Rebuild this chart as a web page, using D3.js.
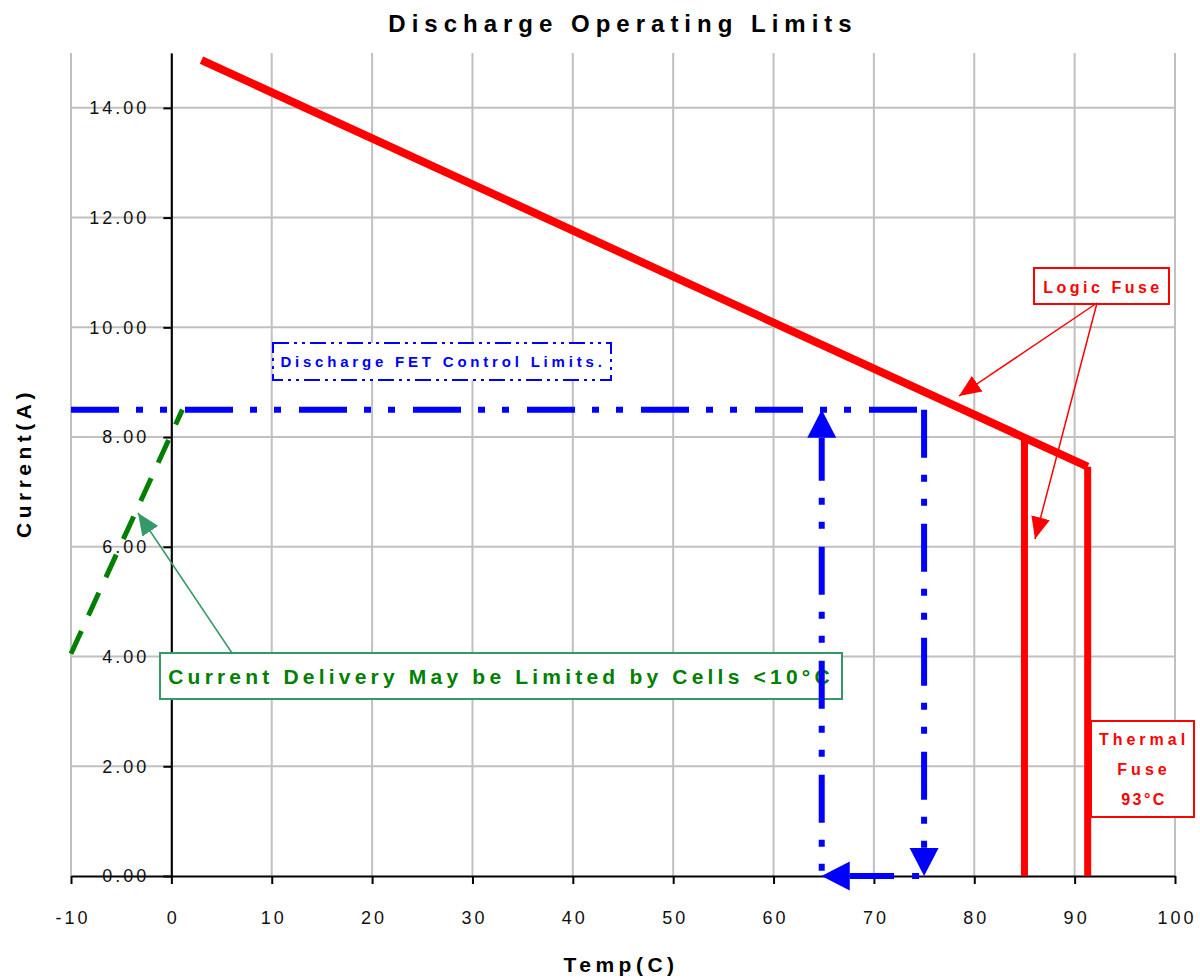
<!DOCTYPE html>
<html>
<head>
<meta charset="utf-8">
<script src="https://cdn.jsdelivr.net/npm/d3@7/dist/d3.min.js"></script>
<style>
  body { margin: 0; background: #fff; }
  svg { display: block; font-family: 'Liberation Sans', Arial, sans-serif; }
  .grid line { stroke: #c0c0c0; stroke-width: 2; }
  .axis path, .axis line { stroke: #000; stroke-width: 2; }
  .axis text { font-size: 18px; letter-spacing: 3px; fill: #111; font-family: 'Liberation Sans', Arial, sans-serif; }
  .title { font-size: 24px; font-weight: bold; letter-spacing: 6px; }
  .axis-title { font-size: 21px; font-weight: bold; letter-spacing: 4.5px; }
  .fet { fill: none; stroke: #0000ff; stroke-width: 6; stroke-dasharray: 48 17 7 17 7 18; }
  .fuse { fill: none; stroke: #ff0000; }
  .cold { fill: none; stroke: #008000; stroke-width: 5; stroke-dasharray: 25 17; }
  .note rect { fill: #fff; stroke-width: 2; }
  .note text { font-weight: bold; text-anchor: middle; }
</style>
</head>
<body>
<svg id="chart" width="1200" height="979"></svg>
<script>
// axis values
var tempTicks = [-10, 0, 10, 20, 30, 40, 50, 60, 70, 80, 90, 100];
var currentTicks = [0, 2, 4, 6, 8, 10, 12, 14];
var currentGrid = [2, 4, 6, 8, 10, 12, 14];

// red limit curve (temp C, current A)
var logicLimit = [{ t: 3, a: 14.87 }, { t: 91.3, a: 7.46 }];
var logicFuse = [{ t: 85, a: 7.95 }, { t: 85, a: 0 }];
var thermalFuse = [{ t: 91.3, a: 7.46 }, { t: 91.3, a: 0 }];

// blue FET control limits
var fetLimit = [{ t: -10, a: 8.5 }, { t: 75, a: 8.5 }];
var fetDrop = [{ t: 75, a: 8.5 }, { t: 75, a: 0 }];
var fetReturn = [{ t: 75, a: 0 }, { t: 64.8, a: 0 }];
var fetRise = [{ t: 64.8, a: 8.5 }, { t: 64.8, a: 0 }];

// green cold cell limit
var coldLimit = [{ t: -10, a: 4.05 }, { t: 1.1, a: 8.5 }];

window.Chart = new function() {
  var svg = d3.select('#chart');
  var x = d3.scaleLinear().domain([-10, 100]).range([71, 1175]);
  var y = d3.scaleLinear().domain([0, 15]).range([876, 53]);
  var line = d3.line().x(function(d) { return x(d.t); }).y(function(d) { return y(d.a); });
  var HEAD = 28;

  this.render = function() {
    createMarkers();
    createGrid();
    createAxes();
    createTitles();
    createColdNote();
    createFetLines();
    createFuseLines();
    createColdLine();
    createFetNote();
    createFuseNotes();
  };

  // PRIVATE

  var createMarkers = function() {
    var defs = svg.append('defs');
    defs.append('marker')
      .attr('id', 'blueHead')
      .attr('markerUnits', 'userSpaceOnUse')
      .attr('viewBox', '0 -15 28 30')
      .attr('refX', 0).attr('refY', 0)
      .attr('markerWidth', 28).attr('markerHeight', 30)
      .attr('orient', 'auto-start-reverse')
      .append('path').attr('d', 'M0,-14.5L28,0L0,14.5Z').attr('fill', '#0000ff');

    [['redHead', '#ff0000'], ['greenHead', '#339966']].forEach(function(m) {
      defs.append('marker')
        .attr('id', m[0])
        .attr('markerUnits', 'userSpaceOnUse')
        .attr('viewBox', '0 -10 22 20')
        .attr('refX', 22).attr('refY', 0)
        .attr('markerWidth', 22).attr('markerHeight', 20)
        .attr('orient', 'auto')
        .append('path').attr('d', 'M0,-9.5L22,0L0,9.5Z').attr('fill', m[1]);
    });
  };

  var createGrid = function() {
    var grid = svg.append('g').attr('class', 'grid');
    grid.selectAll('line.v')
      .data(tempTicks)
      .enter().append('line')
      .attr('class', 'v')
      .attr('x1', function(d) { return x(d); })
      .attr('x2', function(d) { return x(d); })
      .attr('y1', y(15))
      .attr('y2', y(0));
    grid.selectAll('line.h')
      .data(currentGrid)
      .enter().append('line')
      .attr('class', 'h')
      .attr('x1', x(-10))
      .attr('x2', x(100))
      .attr('y1', function(d) { return y(d); })
      .attr('y2', function(d) { return y(d); });
  };

  var createAxes = function() {
    svg.append('g')
      .attr('class', 'axis')
      .attr('transform', 'translate(0,' + y(0) + ')')
      .call(d3.axisBottom(x).tickValues(tempTicks).tickFormat(function(d) { return String(d); })
        .tickSize(8).tickSizeOuter(0).tickPadding(27))
      .selectAll('text').attr('dx', '1.5px');

    svg.append('g')
      .attr('class', 'axis')
      .attr('transform', 'translate(' + x(0) + ',0)')
      .call(d3.axisLeft(y).tickValues(currentTicks).tickFormat(d3.format('.2f'))
        .tickSize(8).tickSizeOuter(0).tickPadding(14));
  };

  var createTitles = function() {
    svg.append('text')
      .attr('class', 'title')
      .attr('x', 623).attr('y', 32)
      .attr('text-anchor', 'middle')
      .text('Discharge Operating Limits');

    svg.append('text')
      .attr('class', 'axis-title')
      .attr('x', 621).attr('y', 972)
      .attr('text-anchor', 'middle')
      .text('Temp(C)');

    svg.append('text')
      .attr('class', 'axis-title')
      .attr('transform', 'translate(31,463) rotate(-90)')
      .attr('text-anchor', 'middle')
      .text('Current(A)');
  };

  // pull one end of a segment back so the arrow head lands on the data point
  var trimmed = function(data, atStart) {
    var p = data.map(function(d) { return [x(d.t), y(d.a)]; });
    var a = atStart ? p[0] : p[1], b = atStart ? p[1] : p[0];
    var dx = b[0] - a[0], dy = b[1] - a[1], len = Math.sqrt(dx * dx + dy * dy);
    a[0] += dx / len * HEAD;
    a[1] += dy / len * HEAD;
    return d3.line()(p);
  };

  var createFetLines = function() {
    var g = svg.append('g');
    g.append('path').attr('class', 'fet').attr('d', line(fetLimit));
    g.append('path').attr('class', 'fet').attr('d', trimmed(fetDrop, false))
      .attr('marker-end', 'url(#blueHead)');
    g.append('path').attr('class', 'fet').attr('d', trimmed(fetReturn, false))
      .attr('stroke-dashoffset', 84)
      .attr('marker-end', 'url(#blueHead)');
    g.append('path').attr('class', 'fet').attr('d', trimmed(fetRise, true))
      .attr('stroke-dashoffset', 5)
      .attr('marker-start', 'url(#blueHead)');
  };

  var createFuseLines = function() {
    var g = svg.append('g');
    g.append('path').attr('class', 'fuse').attr('stroke-width', 8).attr('d', line(logicLimit));
    g.append('path').attr('class', 'fuse').attr('stroke-width', 7).attr('d', line(logicFuse));
    g.append('path').attr('class', 'fuse').attr('stroke-width', 7).attr('d', line(thermalFuse));
  };

  var createColdLine = function() {
    svg.append('path').attr('class', 'cold').attr('d', line(coldLimit));
  };

  var createColdNote = function() {
    var g = svg.append('g').attr('class', 'note');
    g.append('rect')
      .attr('x', 160).attr('y', 653).attr('width', 682).attr('height', 46)
      .attr('stroke', '#339966');
    g.append('text')
      .attr('x', 501).attr('y', 684)
      .attr('fill', '#008000')
      .style('font-size', '21px').style('letter-spacing', '4.2px')
      .text('Current Delivery May be Limited by Cells <10°C');
    g.append('line')
      .attr('x1', 232).attr('y1', 653).attr('x2', 138).attr('y2', 513)
      .attr('stroke', '#339966').attr('stroke-width', 1.5)
      .attr('marker-end', 'url(#greenHead)');
  };

  var createFetNote = function() {
    var g = svg.append('g').attr('class', 'note');
    g.append('rect')
      .attr('x', 273).attr('y', 343).attr('width', 338).attr('height', 37)
      .attr('stroke', '#0000ff')
      .attr('stroke-dasharray', '16 5 3 5 3 5');
    g.append('text')
      .attr('x', 443).attr('y', 367)
      .attr('fill', '#0000ff')
      .style('font-size', '15px').style('letter-spacing', '3.8px')
      .text('Discharge FET Control Limits.');
  };

  var createFuseNotes = function() {
    var g = svg.append('g').attr('class', 'note');
    g.append('rect')
      .attr('x', 1034).attr('y', 268).attr('width', 135).attr('height', 36)
      .attr('stroke', '#ff0000');
    g.append('text')
      .attr('x', 1103).attr('y', 293)
      .attr('fill', '#ff0000')
      .style('font-size', '16px').style('letter-spacing', '3.5px')
      .text('Logic Fuse');
    [[959, 396], [1035, 539]].forEach(function(tip) {
      g.append('line')
        .attr('x1', 1097).attr('y1', 303).attr('x2', tip[0]).attr('y2', tip[1])
        .attr('stroke', '#ff0000').attr('stroke-width', 1.5)
        .attr('marker-end', 'url(#redHead)');
    });

    g.append('rect')
      .attr('x', 1091).attr('y', 721).attr('width', 103).attr('height', 96)
      .attr('stroke', '#ff0000');
    g.selectAll('text.thermal')
      .data(['Thermal', 'Fuse', '93°C'])
      .enter().append('text')
      .attr('class', 'thermal')
      .attr('x', 1144)
      .attr('y', function(d, i) { return 745 + i * 30; })
      .attr('fill', '#ff0000')
      .style('font-size', '16px')
      .style('letter-spacing', function(d, i) { return i === 2 ? '2.5px' : '4px'; })
      .text(function(d) { return d; });
  };
};

Chart.render();
</script>
</body>
</html>
